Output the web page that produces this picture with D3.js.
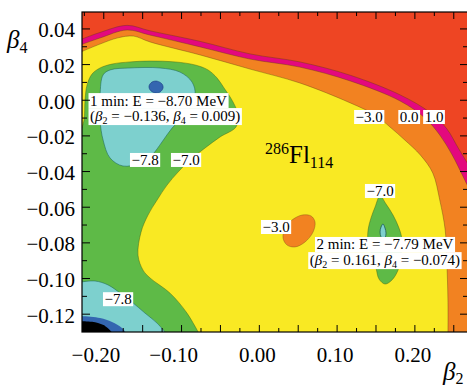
<!DOCTYPE html>
<html><head><meta charset="utf-8">
<script src="https://cdn.jsdelivr.net/npm/d3@7"></script>
<style>
body{margin:0;background:#fff}
svg{display:block}
</style>
</head><body>
<svg id="c" width="467" height="387" font-family="Liberation Serif, Times New Roman, serif"></svg>
<script>
// ---------- data (beta2, beta4) ----------
const b2Domain = [-0.228, 0.2683];
const b4Domain = [-0.13, 0.0495];
const xTickValues = [-0.20, -0.10, 0.00, 0.10, 0.20];
const xTickLabels = ["−0.20", "−0.10", "0.00", "0.10", "0.20"];
const yTickValues = [0.04, 0.02, 0.00, -0.02, -0.04, -0.06, -0.08, -0.10, -0.12];
const yTickLabels = ["0.04", "0.02", "0.00", "−0.02", "−0.04", "−0.06", "−0.08", "−0.10", "−0.12"];

// contour levels (MeV)
const levels = ["1.0", "0.0", "−3.0", "−7.0", "−7.8", "−8.5", "−9.0"];

// contour lines
const c10 = [[-0.23,0.034],[-0.205,0.038],[-0.170,0.042],[-0.141,0.039],[-0.076,0.033],[-0.012,0.026],[0.052,0.0215],[0.117,0.014],[0.181,0.003],[0.220,-0.007],[0.241,-0.016],[0.256,-0.027],[0.27,-0.037]];
const c00 = [[-0.23,0.031],[-0.205,0.0349],[-0.170,0.0394],[-0.141,0.0366],[-0.076,0.0299],[-0.012,0.0231],[0.052,0.0186],[0.117,0.0108],[0.181,-0.0004],[0.213,-0.0100],[0.232,-0.0195],[0.248,-0.0307],[0.261,-0.0419],[0.27,-0.050]];
const c30 = [[-0.23,0.027],[-0.205,0.0315],[-0.182,0.035],[-0.162,0.036],[-0.1405,0.0327],[-0.076,0.0254],[-0.012,0.0175],[0.052,0.0097],[0.117,-0.0015],[0.149,-0.0083],[0.168,-0.015],[0.187,-0.0223],[0.207,-0.0307],[0.223,-0.0408],[0.232,-0.056],[0.239,-0.0728],[0.241,-0.0897],[0.2425,-0.112],[0.2425,-0.132]];
const c30island = [[0.0665,-0.0649],[0.0716,-0.0683],[0.0691,-0.0739],[0.0588,-0.0795],[0.0459,-0.0823],[0.0356,-0.0812],[0.0305,-0.0773],[0.0331,-0.0716],[0.0420,-0.0672],[0.0549,-0.0644]];
const c70 = [[-0.23,-0.0178],[-0.2254,-0.0111],[-0.2241,0.0001],[-0.2215,0.0086],[-0.2151,0.0147],[-0.2048,0.0181],[-0.1894,0.0203],[-0.1663,0.0215],[-0.1405,0.0220],[-0.1084,0.0215],[-0.0827,0.0198],[-0.0660,0.0170],[-0.0544,0.0125],[-0.0454,0.0069],[-0.0338,-0.0010],[-0.0274,-0.0083],[-0.0300,-0.0150],[-0.0505,-0.0206],[-0.0698,-0.0268],[-0.0891,-0.0335],[-0.1045,-0.0403],[-0.1187,-0.0476],[-0.1315,-0.0560],[-0.1431,-0.0644],[-0.1521,-0.0740],[-0.1560,-0.0869],[-0.1495,-0.0953],[-0.1405,-0.0997],[-0.1148,-0.1082],[-0.0930,-0.1194],[-0.0762,-0.132]];
const c70island = [[0.1552,-0.0537],[0.1629,-0.0582],[0.1719,-0.0644],[0.1796,-0.0717],[0.1835,-0.0784],[0.1822,-0.0868],[0.1784,-0.0952],[0.1706,-0.1008],[0.1616,-0.1031],[0.1539,-0.1003],[0.1500,-0.0941],[0.1449,-0.0868],[0.1398,-0.0795],[0.1398,-0.0728],[0.1436,-0.0660],[0.1488,-0.0599]];
const c78 = [[-0.2009,0.0142],[-0.1919,0.0170],[-0.1663,0.0181],[-0.1277,0.0181],[-0.1020,0.0158],[-0.0865,0.0102],[-0.0827,0.0029],[-0.0955,-0.0083],[-0.1122,-0.0156],[-0.1251,-0.0234],[-0.1380,-0.0307],[-0.1534,-0.0352],[-0.1753,-0.0369],[-0.1919,-0.0324],[-0.2009,-0.0223],[-0.2048,-0.0111],[-0.2048,0.0029]];
const c78low = [[-0.23,-0.1020],[-0.2112,-0.1014],[-0.1945,-0.1036],[-0.1791,-0.1081],[-0.1637,-0.1132],[-0.1470,-0.1194],[-0.1315,-0.1250],[-0.1174,-0.132]];
const c78island = [[0.1590,-0.0694],[0.1616,-0.0717],[0.1629,-0.0745],[0.1616,-0.0773],[0.1590,-0.0784],[0.1565,-0.0767],[0.1552,-0.0739],[0.1565,-0.0711]];
const c85 = [[-0.1418,0.0080],[-0.1380,0.0102],[-0.1315,0.0107],[-0.1251,0.0091],[-0.1238,0.0069],[-0.1277,0.0046],[-0.1341,0.0041],[-0.1405,0.0058]];
const c85low = [[-0.23,-0.1210],[-0.2048,-0.1222],[-0.1894,-0.1244],[-0.1766,-0.1278],[-0.1690,-0.132]];
const c90low = [[-0.23,-0.1240],[-0.2112,-0.1246],[-0.1971,-0.1270],[-0.1860,-0.132]];

// contour label positions and texts
const contourLabels = [
  {b2:0.1413, b4:-0.0094, t:"−3.0"},
  {b2:0.1927, b4:-0.0094, t:"0.0"},
  {b2:0.2246, b4:-0.0094, t:"1.0"},
  {b2:-0.1469, b4:-0.0335, t:"−7.8"},
  {b2:-0.0942, b4:-0.0335, t:"−7.0"},
  {b2:0.0215, b4:-0.0711, t:"−3.0"},
  {b2:0.1552, b4:-0.0509, t:"−7.0"},
  {b2:-0.1816, b4:-0.1116, t:"−7.8"}
];
// minima annotations
const min1 = {b2:-0.2177, line1b4:-0.0030, line2b4:-0.0114, E:"−8.70", beta2:"−0.136", beta4:"0.009"};
const min2 = {b2:0.1615, line1b4:-0.0837, line2b4:-0.0922, E:"−7.79", beta2:"0.161", beta4:"−0.074"};
const nucleus = {b2:0.0073, b4:-0.0352, A:"286", sym:"Fl", Z:"114"};

// ---------- styles ----------
const fills = {"1.0":"#e3097e","0.0":"#f28221","−3.0":"#f9e923","−7.0":"#5eba47","−7.8":"#7dd0ce","−8.5":"#3466b0","−9.0":"#000000"};
const bgFill = "#ee4523";
const FONT = "Liberation Serif";

const svg = d3.select("#c");
const P = {l:82, t:12, r:468, b:332};
const x = d3.scaleLinear().domain(b2Domain).range([P.l, P.r]);
const y = d3.scaleLinear().domain(b4Domain).range([P.b, P.t]);

svg.append("defs").append("clipPath").attr("id","clip")
  .append("rect").attr("x",P.l).attr("y",P.t).attr("width",P.r-P.l).attr("height",P.b-P.t);

const g = svg.append("g").attr("clip-path","url(#clip)");
const openLine = d3.line().x(d=>x(d[0])).y(d=>y(d[1])).curve(d3.curveCatmullRom.alpha(0.5));
const closedLine = d3.line().x(d=>x(d[0])).y(d=>y(d[1])).curve(d3.curveCatmullRomClosed.alpha(0.5));
const BR = [b2Domain[1]+0.01, b4Domain[0]-0.01], BL = [b2Domain[0]-0.01, b4Domain[0]-0.01];
function region(pts, corners){
  return openLine(pts) + corners.map(c=>"L"+x(c[0])+","+y(c[1])).join("") + "Z";
}

g.append("rect").attr("x",P.l).attr("y",P.t).attr("width",P.r-P.l).attr("height",P.b-P.t).attr("fill",bgFill);

const openRegions = [
  {pts:c10, lv:"1.0", corners:[BR,BL]},
  {pts:c00, lv:"0.0", corners:[BR,BL]},
  {pts:c30, lv:"−3.0", corners:[BL]},
];
openRegions.forEach(r=>{
  g.append("path").attr("d",region(r.pts,r.corners)).attr("fill",fills[r.lv]);
  g.append("path").attr("d",openLine(r.pts)).attr("fill","none").attr("stroke","#5a3a10").attr("stroke-opacity",0.55).attr("stroke-width",0.7);
});
g.append("path").attr("d",closedLine(c30island)).attr("fill",fills["0.0"]).attr("stroke","#6a4010").attr("stroke-opacity",0.5).attr("stroke-width",0.7);

g.append("path").attr("d",region(c70,[BL])).attr("fill",fills["−7.0"]);
g.append("path").attr("d",openLine(c70)).attr("fill","none").attr("stroke","#3a5a10").attr("stroke-opacity",0.6).attr("stroke-width",0.7);
g.append("path").attr("d",closedLine(c70island)).attr("fill",fills["−7.0"]).attr("stroke","#3a5a10").attr("stroke-opacity",0.6).attr("stroke-width",0.7);

g.append("path").attr("d",closedLine(c78)).attr("fill",fills["−7.8"]).attr("stroke","#1e6a5a").attr("stroke-opacity",0.7).attr("stroke-width",0.8);
g.append("path").attr("d",region(c78low,[BL])).attr("fill",fills["−7.8"]);
g.append("path").attr("d",openLine(c78low)).attr("fill","none").attr("stroke","#1e6a5a").attr("stroke-opacity",0.7).attr("stroke-width",0.8);
g.append("path").attr("d",closedLine(c78island)).attr("fill",fills["−7.8"]).attr("stroke","#1e5a5a").attr("stroke-width",0.8);

g.append("path").attr("d",closedLine(c85)).attr("fill",fills["−8.5"]).attr("stroke","#1a3a80").attr("stroke-width",0.6);
g.append("path").attr("d",region(c85low,[BL])).attr("fill",fills["−8.5"]);
g.append("path").attr("d",region(c90low,[BL])).attr("fill",fills["−9.0"]);

// ---------- labels ----------
const lab = svg.append("g");
function boxedText(parent, px, py, anchor, fs, build){
  const gg = parent.append("g");
  const r = gg.append("rect").attr("fill","#fff");
  const t = gg.append("text").attr("x",px).attr("y",py).attr("text-anchor",anchor)
    .attr("font-size",fs).attr("font-family",FONT);
  build(t);
  const bb = t.node().getBBox();
  r.attr("x",bb.x-1.5).attr("y",bb.y+1).attr("width",bb.width+3).attr("height",bb.height-2);
}
contourLabels.forEach(d=>{
  boxedText(lab, x(d.b2), y(d.b4)+5, "middle", 15, t=>t.text(d.t));
});

function betaLine(t, b2v, b4v){
  t.append("tspan").text("(");
  t.append("tspan").attr("font-style","italic").text("β");
  t.append("tspan").attr("font-size",10).attr("dy",3).text("2");
  t.append("tspan").attr("dy",-3).text(" = "+b2v+", ");
  t.append("tspan").attr("font-style","italic").text("β");
  t.append("tspan").attr("font-size",10).attr("dy",3).text("4");
  t.append("tspan").attr("dy",-3).text(" = "+b4v+")");
}
function annotation(m, anchor, line1){
  const gg = lab.append("g");
  const px = x(m.b2), y1 = y(m.line1b4), y2 = y(m.line2b4);
  const meas = (yy, build) => {
    const t = gg.append("text").attr("x",px).attr("y",yy).attr("text-anchor",anchor).attr("font-size",15).attr("font-family",FONT);
    build(t); const bb = t.node().getBBox(); t.remove(); return bb;
  };
  const b1 = meas(y1, t=>t.text(line1));
  const b2 = meas(y2, t=>betaLine(t,m.beta2,m.beta4));
  gg.append("rect").attr("fill","#fff").attr("x",b1.x-1.5).attr("y",y1-12.5).attr("width",b1.width+3).attr("height",y2-y1);
  gg.append("rect").attr("fill","#fff").attr("x",b2.x-1.5).attr("y",y2-12.5).attr("width",b2.width+3).attr("height",17);
  const t = gg.append("text").attr("x",px).attr("y",y1).attr("text-anchor",anchor).attr("font-size",15).attr("font-family",FONT);
  t.append("tspan").attr("x",px).attr("y",y1).text(line1);
  const t2 = t.append("tspan").attr("x",px).attr("y",y2);
  betaLine(t2, m.beta2, m.beta4);
}
annotation(min1, "start", "1 min: E = "+min1.E+" MeV");
annotation(min2, "middle", "2 min: E = "+min2.E+" MeV");

const nt = lab.append("text").attr("x",x(nucleus.b2)).attr("y",y(nucleus.b4)).attr("font-size",25).attr("font-family",FONT);
nt.append("tspan").attr("font-size",16).attr("dy",-9).text(nucleus.A);
nt.append("tspan").attr("dy",9).text(nucleus.sym);
nt.append("tspan").attr("font-size",16).attr("dy",5).text(nucleus.Z);

// ---------- axes ----------
const ax = svg.append("g").attr("stroke","#000").attr("fill","none");
ax.append("rect").attr("x",P.l).attr("y",P.t).attr("width",P.r-P.l).attr("height",P.b-P.t).attr("stroke-width",1.2);
const xMinor = d3.range(-9, 11).map(i=>i*0.025);
xMinor.forEach(v=>{
  const major = Math.abs(Math.round(v/0.05)*0.05 - v) < 1e-9;
  const L = major ? 7 : 4;
  ax.append("line").attr("x1",x(v)).attr("x2",x(v)).attr("y1",P.b).attr("y2",P.b-L);
  ax.append("line").attr("x1",x(v)).attr("x2",x(v)).attr("y1",P.t).attr("y2",P.t+L);
});
const yMinor = d3.range(-12, 5).map(i=>i*0.01);
yMinor.forEach(v=>{
  const major = Math.abs(Math.round(v/0.02)*0.02 - v) < 1e-9;
  const L = major ? 8 : 5;
  ax.append("line").attr("y1",y(v)).attr("y2",y(v)).attr("x1",P.l).attr("x2",P.l+L);
  ax.append("line").attr("y1",y(v)).attr("y2",y(v)).attr("x1",P.r).attr("x2",P.r-L);
});

const tl = svg.append("g").attr("font-size",21).attr("font-family",FONT);
xTickValues.forEach((v,i)=>{
  const s = xTickLabels[i];
  const neg = s.startsWith("−");
  const t = tl.append("text").attr("y",362).attr("text-anchor","end").text(s);
  const tmp = tl.append("text").text(neg ? s.slice(1) : s);
  const nw = tmp.node().getComputedTextLength(); tmp.remove();
  t.attr("x", x(v) - 2 + nw/2);
});
yTickValues.forEach((v,i)=>{
  tl.append("text").attr("x",75).attr("y",y(v)+8.5).attr("text-anchor","end").text(yTickLabels[i]);
});

const yt = svg.append("text").attr("x",7).attr("y",48).attr("font-size",25).attr("font-family",FONT);
yt.append("tspan").attr("font-style","italic").text("β");
yt.append("tspan").attr("font-size",16).attr("dy",5).text("4");
const xt = svg.append("text").attr("x",443).attr("y",380).attr("font-size",25).attr("font-family",FONT);
xt.append("tspan").attr("font-style","italic").text("β");
xt.append("tspan").attr("font-size",16).attr("dy",4).text("2");
</script>
</body></html>
